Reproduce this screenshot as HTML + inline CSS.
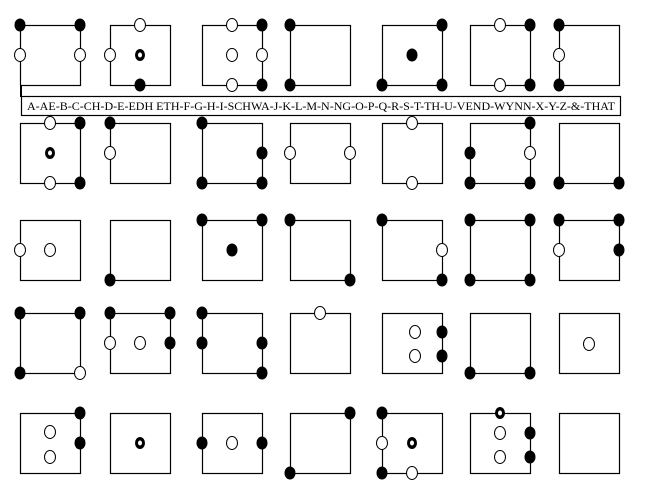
<!DOCTYPE html>
<html><head><meta charset="utf-8"><style>html,body{margin:0;padding:0;background:#fff}svg{display:block}</style></head>
<body>
<svg width="649" height="497" viewBox="0 0 649 497" xmlns="http://www.w3.org/2000/svg">
<defs>
<ellipse id="f" cx="0" cy="0" rx="5.5" ry="6.5" fill="#000"/>
<ellipse id="o" cx="0" cy="0" rx="5.5" ry="6.5" fill="#fff" stroke="#000" stroke-width="1"/>
<g id="r"><ellipse cx="0" cy="0" rx="5" ry="6" fill="#000"/><ellipse cx="0" cy="0" rx="2" ry="2.5" fill="#fff"/></g>
</defs>
<g fill="none" stroke="#000" stroke-width="1.2">
<rect x="20.5" y="25.5" width="60" height="60"/><rect x="110.5" y="25.5" width="60" height="60"/><rect x="202.5" y="25.5" width="60" height="60"/><rect x="290.5" y="25.5" width="60" height="60"/><rect x="382.5" y="25.5" width="60" height="60"/><rect x="470.5" y="25.5" width="60" height="60"/><rect x="559.5" y="25.5" width="60" height="60"/>
<rect x="20.5" y="123.5" width="60" height="60"/><rect x="110.5" y="123.5" width="60" height="60"/><rect x="202.5" y="123.5" width="60" height="60"/><rect x="290.5" y="123.5" width="60" height="60"/><rect x="382.5" y="123.5" width="60" height="60"/><rect x="470.5" y="123.5" width="60" height="60"/><rect x="559.5" y="123.5" width="60" height="60"/>
<rect x="20.5" y="220.5" width="60" height="60"/><rect x="110.5" y="220.5" width="60" height="60"/><rect x="202.5" y="220.5" width="60" height="60"/><rect x="290.5" y="220.5" width="60" height="60"/><rect x="382.5" y="220.5" width="60" height="60"/><rect x="470.5" y="220.5" width="60" height="60"/><rect x="559.5" y="220.5" width="60" height="60"/>
<rect x="20.5" y="313.5" width="60" height="60"/><rect x="110.5" y="313.5" width="60" height="60"/><rect x="202.5" y="313.5" width="60" height="60"/><rect x="290.5" y="313.5" width="60" height="60"/><rect x="382.5" y="313.5" width="60" height="60"/><rect x="470.5" y="313.5" width="60" height="60"/><rect x="559.5" y="313.5" width="60" height="60"/>
<rect x="20.5" y="413.5" width="60" height="60"/><rect x="110.5" y="413.5" width="60" height="60"/><rect x="202.5" y="413.5" width="60" height="60"/><rect x="290.5" y="413.5" width="60" height="60"/><rect x="382.5" y="413.5" width="60" height="60"/><rect x="470.5" y="413.5" width="60" height="60"/><rect x="559.5" y="413.5" width="60" height="60"/>
<rect x="21.5" y="96.5" width="599" height="19"/>
</g>
<line x1="21" y1="85" x2="21" y2="97" stroke="#000" stroke-width="2"/>
<text x="27" y="110" font-family="Liberation Serif, serif" font-size="11.5" textLength="588" lengthAdjust="spacingAndGlyphs">A-AE-B-C-CH-D-E-EDH ETH-F-G-H-I-SCHWA-J-K-L-M-N-NG-O-P-Q-R-S-T-TH-U-VEND-WYNN-X-Y-Z-&amp;-THAT</text>
<!-- Row 1 -->
<use href="#f" x="20" y="25"/><use href="#f" x="80" y="25"/><use href="#o" x="20" y="55"/><use href="#o" x="80" y="55"/>
<use href="#o" x="140" y="25"/><use href="#o" x="110" y="55"/><use href="#r" x="140" y="55"/><use href="#f" x="140" y="85"/>
<use href="#o" x="232" y="25"/><use href="#f" x="262" y="25"/><use href="#o" x="232" y="55"/><use href="#o" x="262" y="55"/><use href="#o" x="232" y="85"/><use href="#f" x="262" y="85"/>
<use href="#f" x="290" y="25"/><use href="#f" x="290" y="85"/>
<use href="#f" x="442" y="25"/><use href="#f" x="412" y="55"/><use href="#f" x="382" y="85"/><use href="#f" x="442" y="85"/>
<use href="#o" x="500" y="25"/><use href="#f" x="530" y="25"/><use href="#o" x="500" y="85"/><use href="#f" x="530" y="85"/>
<use href="#f" x="559" y="25"/><use href="#o" x="559" y="55"/><use href="#f" x="559" y="85"/>
<!-- Row 2 -->
<use href="#o" x="50" y="123"/><use href="#f" x="80" y="123"/><use href="#r" x="50" y="153"/><use href="#o" x="50" y="183"/><use href="#f" x="80" y="183"/>
<use href="#f" x="110" y="123"/><use href="#o" x="110" y="153"/>
<use href="#f" x="202" y="123"/><use href="#f" x="262" y="153"/><use href="#f" x="202" y="183"/><use href="#f" x="262" y="183"/>
<use href="#o" x="290" y="153"/><use href="#o" x="350" y="153"/>
<use href="#o" x="412" y="123"/><use href="#o" x="412" y="183"/>
<use href="#f" x="530" y="123"/><use href="#f" x="470" y="153"/><use href="#o" x="530" y="153"/><use href="#f" x="470" y="183"/><use href="#f" x="530" y="183"/>
<use href="#f" x="559" y="183"/><use href="#f" x="619" y="183"/>
<!-- Row 3 -->
<use href="#o" x="20" y="250"/><use href="#o" x="50" y="250"/>
<use href="#f" x="110" y="280"/>
<use href="#f" x="202" y="220"/><use href="#f" x="262" y="220"/><use href="#f" x="232" y="250"/>
<use href="#f" x="290" y="220"/><use href="#f" x="350" y="280"/>
<use href="#f" x="382" y="220"/><use href="#o" x="442" y="250"/><use href="#f" x="442" y="280"/>
<use href="#f" x="470" y="220"/><use href="#f" x="530" y="220"/><use href="#f" x="470" y="280"/><use href="#f" x="530" y="280"/>
<use href="#f" x="559" y="220"/><use href="#f" x="619" y="220"/><use href="#o" x="559" y="250"/><use href="#f" x="619" y="250"/>
<!-- Row 4 -->
<use href="#f" x="20" y="313"/><use href="#f" x="80" y="313"/><use href="#f" x="20" y="373"/><use href="#o" x="80" y="373"/>
<use href="#f" x="110" y="313"/><use href="#f" x="170" y="313"/><use href="#o" x="110" y="343"/><use href="#o" x="140" y="343"/><use href="#f" x="170" y="343"/>
<use href="#f" x="202" y="313"/><use href="#f" x="202" y="343"/><use href="#f" x="262" y="343"/><use href="#f" x="262" y="373"/>
<use href="#o" x="320" y="313"/>
<use href="#o" x="415" y="332"/><use href="#o" x="415" y="356"/><use href="#f" x="442" y="332"/><use href="#f" x="442" y="356"/>
<use href="#f" x="470" y="373"/><use href="#f" x="530" y="373"/>
<use href="#o" x="589" y="344"/>
<!-- Row 5 -->
<use href="#f" x="80" y="413"/><use href="#f" x="80" y="443"/><use href="#o" x="50" y="432"/><use href="#o" x="50" y="457"/>
<use href="#r" x="140" y="443"/>
<use href="#f" x="202" y="443"/><use href="#o" x="232" y="443"/><use href="#f" x="262" y="443"/>
<use href="#f" x="350" y="413"/><use href="#f" x="290" y="473"/>
<use href="#f" x="382" y="413"/><use href="#o" x="382" y="443"/><use href="#r" x="412" y="443"/><use href="#f" x="382" y="473"/><use href="#o" x="412" y="473"/>
<use href="#r" x="500" y="413"/><use href="#o" x="500" y="433"/><use href="#o" x="500" y="457"/><use href="#f" x="530" y="433"/><use href="#f" x="530" y="457"/>
</svg>
</body></html>
